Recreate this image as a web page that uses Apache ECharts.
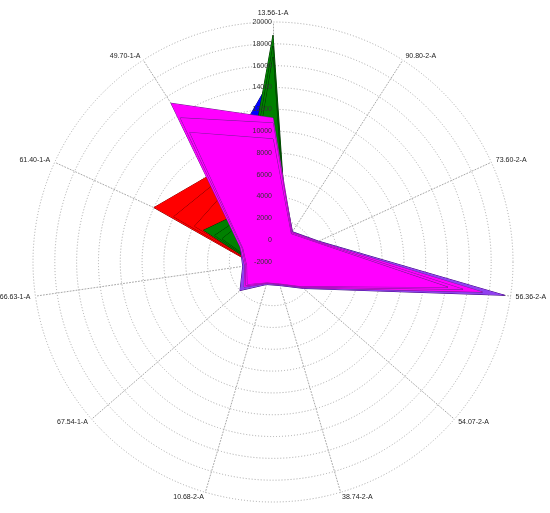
<!DOCTYPE html>
<html><head><meta charset="utf-8">
<script src="https://cdn.jsdelivr.net/npm/echarts@6/dist/echarts.min.js"></script>
<style>html,body{margin:0;padding:0;background:#fff}#c{width:550px;height:513px}</style>
</head><body><div id="c"></div>
<script>
// Axes in the reference's clockwise order, starting at the top
const axisNames = ['13.56-1-A','90.80-2-A','73.60-2-A','56.36-2-A','54.07-2-A','38.74-2-A','10.68-2-A','67.54-1-A','66.63-1-A','61.40-1-A','49.70-1-A'];
const tickMin = -2000, tickMax = 20000, tickCount = 11;

const blueA   = [15100, 600, 800, 3000, 600, -500, -600, -500, -300, 3000, 7600];
const redA    = [6000, 500, 800, 3000, 600, -600, -700, -600, -300, 10000, 7800];
const redB    = [5500, 400, 700, 2800, 500, -700, -800, -700, -400, 8000, 7000];
const redC    = [5000, 300, 600, 2600, 400, -800, -900, -800, -500, 5900, 5850];
const greenA  = [18800, 400, 700, 2500, 600, -600, -700, -600, -440, 5000, 3400];
const greenB  = [17800, 300, 600, 2300, 500, -700, -800, -700, -500, 3870, 3000];
const greenC  = [16800, 200, 500, 2100, 400, -800, -900, -800, -600, 3130, 2600];
const purpleA = [10000, 1300, 2600, 19450, 1700, 250, 150, 2000, 800, 1300, 12000];
const magA    = [11200, 1250, 2500, 17400, 1600, 150, 50, 1500, 600, 1300, 15300];
const magB    = [10740, 1150, 2400, 15600, 1500, 100, 0, 1300, 500, 1100, 13700];
const magC    = [9280, 1050, 2300, 14200, 1400, 50, -50, 1100, 400, 1000, 12100];

// ECharts lays radar indicators out counter-clockwise; reorder to draw clockwise
const order = [0,10,9,8,7,6,5,4,3,2,1];
const ccw = a => order.map(i => a[i]);

function group(name, arrs, fill, edge) {
  return {
    type: 'radar', name: name, symbol: 'none', silent: true, radarIndex: 0,
    data: arrs.map(a => ({
      value: ccw(a),
      areaStyle: { color: fill, opacity: 1 },
      lineStyle: { color: edge, width: 1 }
    }))
  };
}

const gridColor = '#a8a8a8';
const dots = [1, 2];
const baseRadar = {
  center: [273, 262],
  radius: 240,
  startAngle: 90,
  shape: 'circle',
  splitNumber: tickCount,
  splitArea: { show: false },
  axisTick: { show: false }
};

const chart = echarts.init(document.getElementById('c'), null, { renderer: 'canvas' });
chart.setOption({
  animation: false,
  backgroundColor: '#fff',
  radar: [
    Object.assign({}, baseRadar, {
      z: 0,
      nameGap: 5,
      axisName: { color: '#222', fontSize: 7, fontFamily: 'Liberation Sans' },
      indicator: ccw(axisNames).map(n => ({ name: n, min: tickMin, max: tickMax })),
      splitLine: { lineStyle: { color: gridColor, type: dots, width: 1 } },
      axisLine: { lineStyle: { color: gridColor, type: dots, width: 1 } },
      axisLabel: { show: false }
    }),
    Object.assign({}, baseRadar, {
      z: 10,
      axisName: { show: false },
      indicator: ccw(axisNames).map((n, i) => {
        const o = { name: '', min: tickMin, max: tickMax };
        if (i === 0) o.axisLabel = { show: true, color: '#333', fontSize: 7, fontFamily: 'Liberation Sans', margin: 1, formatter: v => String(v) };
        return o;
      }),
      splitLine: { show: false },
      axisLine: { show: false },
      axisLabel: { show: false }
    })
  ],
  series: [
    group('blue', [blueA], '#0000ff', '#000080'),
    group('red', [redA, redB, redC], '#ff0000', '#800000'),
    group('green', [greenA, greenB, greenC], '#008000', '#003000'),
    group('purple', [purpleA], '#9040f0', '#400080'),
    group('magenta', [magA, magB, magC], '#ff00ff', '#702090')
  ]
});
</script>
</body></html>
